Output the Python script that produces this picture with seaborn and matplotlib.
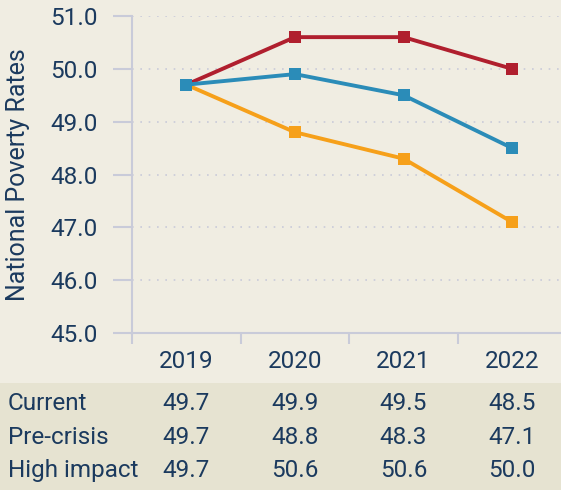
import pandas as pd
import matplotlib.pyplot as plt
import seaborn as sns
from matplotlib.transforms import blended_transform_factory
from matplotlib.patches import Rectangle

years = ["2019", "2020", "2021", "2022"]
current = [49.7, 49.9, 49.5, 48.5]
pre_crisis = [49.7, 48.8, 48.3, 47.1]
high_impact = [49.7, 50.6, 50.6, 50.0]
y_ticks = [45.0, 46.0, 47.0, 48.0, 49.0, 50.0, 51.0]

series = ["High impact", "Pre-crisis", "Current"]
table_rows = ["Current", "Pre-crisis", "High impact"]
values = {"Current": current, "Pre-crisis": pre_crisis, "High impact": high_impact}
colors = {"High impact": "#b01f2e", "Pre-crisis": "#f6a01a", "Current": "#2b8cb8"}

df = pd.DataFrame(
    [(s, i, v) for s in series for i, v in enumerate(values[s])],
    columns=["scenario", "x", "rate"],
)

navy = "#1b3a5e"
grey = "#c9cbd9"
bg = "#f0ede2"
fs = 17.5

sns.set_theme(style="white")
plt.rcParams["font.family"] = ["Roboto", "DejaVu Sans"]

fig = plt.figure(figsize=(5.61, 4.9), dpi=100, facecolor=bg)
fig.patches.append(
    Rectangle((0, 0), 1, 107 / 490, transform=fig.transFigure,
              facecolor="#e6e3d1", edgecolor="none", zorder=0)
)
ax = fig.add_axes([132 / 561, 1 - 333 / 490, 1 - 132 / 561, (333 - 16) / 490])
ax.set_zorder(2)
ax.set_facecolor(bg)

sns.lineplot(
    data=df, x="x", y="rate", hue="scenario", hue_order=series,
    palette=colors, marker="s", markersize=8, markeredgewidth=0,
    linewidth=2.8, legend=False, ax=ax, zorder=3,
)

ax.set_ylim(45, 51)
ax.set_xlim(-0.5, 3.45)
ax.set_yticks(y_ticks)
ax.set_yticklabels([f"{t:.1f}" for t in y_ticks], color=navy, fontsize=fs)
ax.set_xticks([-0.5, 0.5, 1.5, 2.5])
ax.set_xticklabels([])
ax.tick_params(axis="y", length=14, width=1.5, color=grey, pad=11, left=True)
ax.tick_params(axis="x", length=8, width=1.5, color=grey, bottom=True)
for t in y_ticks[1:]:
    ax.axhline(t, color=grey, linestyle=(0, (1, 4)), linewidth=1.2, zorder=1)

for side in ["top", "right"]:
    ax.spines[side].set_visible(False)
for side in ["left", "bottom"]:
    ax.spines[side].set_color(grey)
    ax.spines[side].set_linewidth(1.5)
ax.spines["left"].set_bounds(45, 51)

ax.set_xlabel("")
ax.set_ylabel("National Poverty Rates", color=navy, fontsize=18)
ax.yaxis.set_label_coords(-0.237, 0.5)

trans = blended_transform_factory(ax.transData, fig.transFigure)
for i, yr in enumerate(years):
    ax.text(i, 1 - 362 / 490, yr, transform=trans, ha="center", va="center",
            color=navy, fontsize=fs)
row_y = [403, 437, 470]
for name, ry in zip(table_rows, row_y):
    fig.text(8 / 561, 1 - ry / 490, name, ha="left", va="center",
             color=navy, fontsize=fs)
    for i, v in enumerate(values[name]):
        ax.text(i, 1 - ry / 490, f"{v:.1f}", transform=trans, ha="center",
                va="center", color=navy, fontsize=fs)

fig.savefig("out.png", dpi=100, facecolor=bg)
